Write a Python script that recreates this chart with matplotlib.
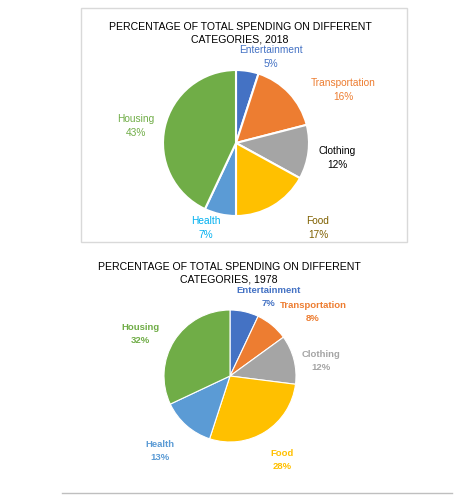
import matplotlib
matplotlib.use("Agg")
import matplotlib.pyplot as plt
from matplotlib.patches import Rectangle

categories = ["Entertainment", "Transportation", "Clothing", "Food", "Health", "Housing"]
values_2018 = [5, 16, 12, 17, 7, 43]
values_1978 = [7, 8, 12, 28, 13, 32]
colors = ["#4472C4", "#ED7D31", "#A5A5A5", "#FFC000", "#5B9BD5", "#70AD47"]

W, H = 457, 497
fig = plt.figure(figsize=(W/100, H/100), dpi=100)
ax = fig.add_axes([0, 0, 1, 1])
ax.set_xlim(0, W); ax.set_ylim(0, H); ax.set_aspect("equal"); ax.axis("off")
Y = lambda y: H - y

ax.add_patch(Rectangle((81, Y(242)), 326, 234, fill=False, ec="#D9D9D9", lw=1))
ax.plot([62, 452], [Y(493), Y(493)], color="#BFBFBF", lw=1)

ax.text(240, Y(33), "PERCENTAGE OF TOTAL SPENDING ON DIFFERENT\nCATEGORIES, 2018",
        ha="center", va="center", fontsize=7.6, family="Liberation Sans", linespacing=1.3)
ax.pie(values_2018, colors=colors, startangle=90, counterclock=False,
       center=(236, Y(143)), radius=73, wedgeprops=dict(edgecolor="white", linewidth=1.5), frame=True)

lab_top = [(271, 57, "#4472C4"), (343, 90, "#ED7D31"), (337, 158, "#000000"),
           (318, 228, "#7F6000"), (206, 228, "#00B0F0"), (136, 126, "#70AD47")]
for (x, y, c), cat, v in zip(lab_top, categories, values_2018):
    ax.text(x, Y(y), f"{cat}\n{v}%", ha="center", va="center", fontsize=7.3,
            color=c, family="Liberation Sans", linespacing=1.4)

ax.text(229, Y(273), "PERCENTAGE OF TOTAL SPENDING ON DIFFERENT\nCATEGORIES, 1978",
        ha="center", va="center", fontsize=7.6, family="Liberation Sans", linespacing=1.3)
ax.pie(values_1978, colors=colors, startangle=90, counterclock=False,
       center=(230, Y(376)), radius=66, wedgeprops=dict(edgecolor="white", linewidth=0.8), frame=True)

lab_bot = [(269, 297, "#4472C4"), (313, 312, "#ED7D31"), (321, 361, "#A5A5A5"),
           (282, 460, "#FFC000"), (160, 451, "#5B9BD5"), (140, 334, "#70AD47")]
for (x, y, c), cat, v in zip(lab_bot, categories, values_1978):
    ax.text(x, Y(y), f"{cat}\n{v}%", ha="center", va="center", fontsize=6.8,
            color=c, family="Liberation Sans", weight="bold", linespacing=1.5)

ax.set_xlim(0, W); ax.set_ylim(0, H); ax.axis("off")
fig.savefig("out.png", dpi=100)
